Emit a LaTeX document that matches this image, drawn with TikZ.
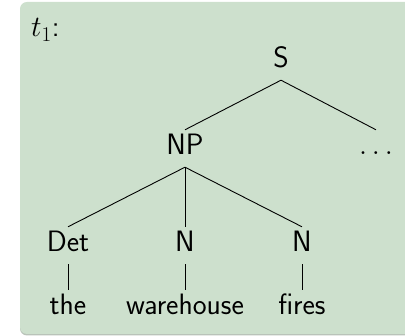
\RequirePackage{fix-cm}
\documentclass[tikz,border=0pt]{standalone}
\DeclareMathSizes{29.5}{29.5}{21}{15}
\definecolor{blockbg}{RGB}{205,224,205}
\definecolor{blockshadow}{RGB}{185,195,185}
\newcommand{\treefont}{\sffamily\fontsize{29.5}{35}\selectfont}
\begin{document}
\begin{tikzpicture}[x=1pt,y=-1pt,
  tag/.style={anchor=base,inner sep=5pt,text height=20pt,text depth=7pt,
    font=\treefont},
  branch/.style={line width=0.9pt,black}]
\useasboundingbox (0,0) rectangle (405,336);
% block background with a faint shadow under it
\begin{scope}
\clip (0,0) rectangle (405,336);
\fill[blockshadow,rounded corners=7pt] (20,3.5) rectangle (420,335.5);
\fill[blockbg,rounded corners=7pt] (20,2) rectangle (420,334);
\end{scope}
% title
\node[anchor=base west,inner sep=0pt,font=\treefont] (title) at (31,37) {$t_1$:};
% tree nodes
\node[tag] (S) at (281,68) {S};
\node[tag] (NP) at (185,155) {NP};
\node[tag] (rest) at (376,155) {$\dots$};
\node[tag] (Det) at (68,252) {Det};
\node[tag] (N1) at (185,252) {N};
\node[tag] (N2) at (302,252) {N};
\node[tag] (w1) at (68,315) {the};
\node[tag] (w2) at (185,315) {warehouse};
\node[tag] (w3) at (302,315) {fires};
% branches
\draw[branch] (S.south) -- (NP.north);
\draw[branch] (S.south) -- (rest.north);
\draw[branch] (NP.south) -- (Det.north);
\draw[branch] (NP.south) -- (N1.north);
\draw[branch] (NP.south) -- (N2.north);
\draw[branch] (Det.south) -- (w1.north);
\draw[branch] (N1.south) -- (w2.north);
\draw[branch] (N2.south) -- (w3.north);
\end{tikzpicture}
\end{document}
